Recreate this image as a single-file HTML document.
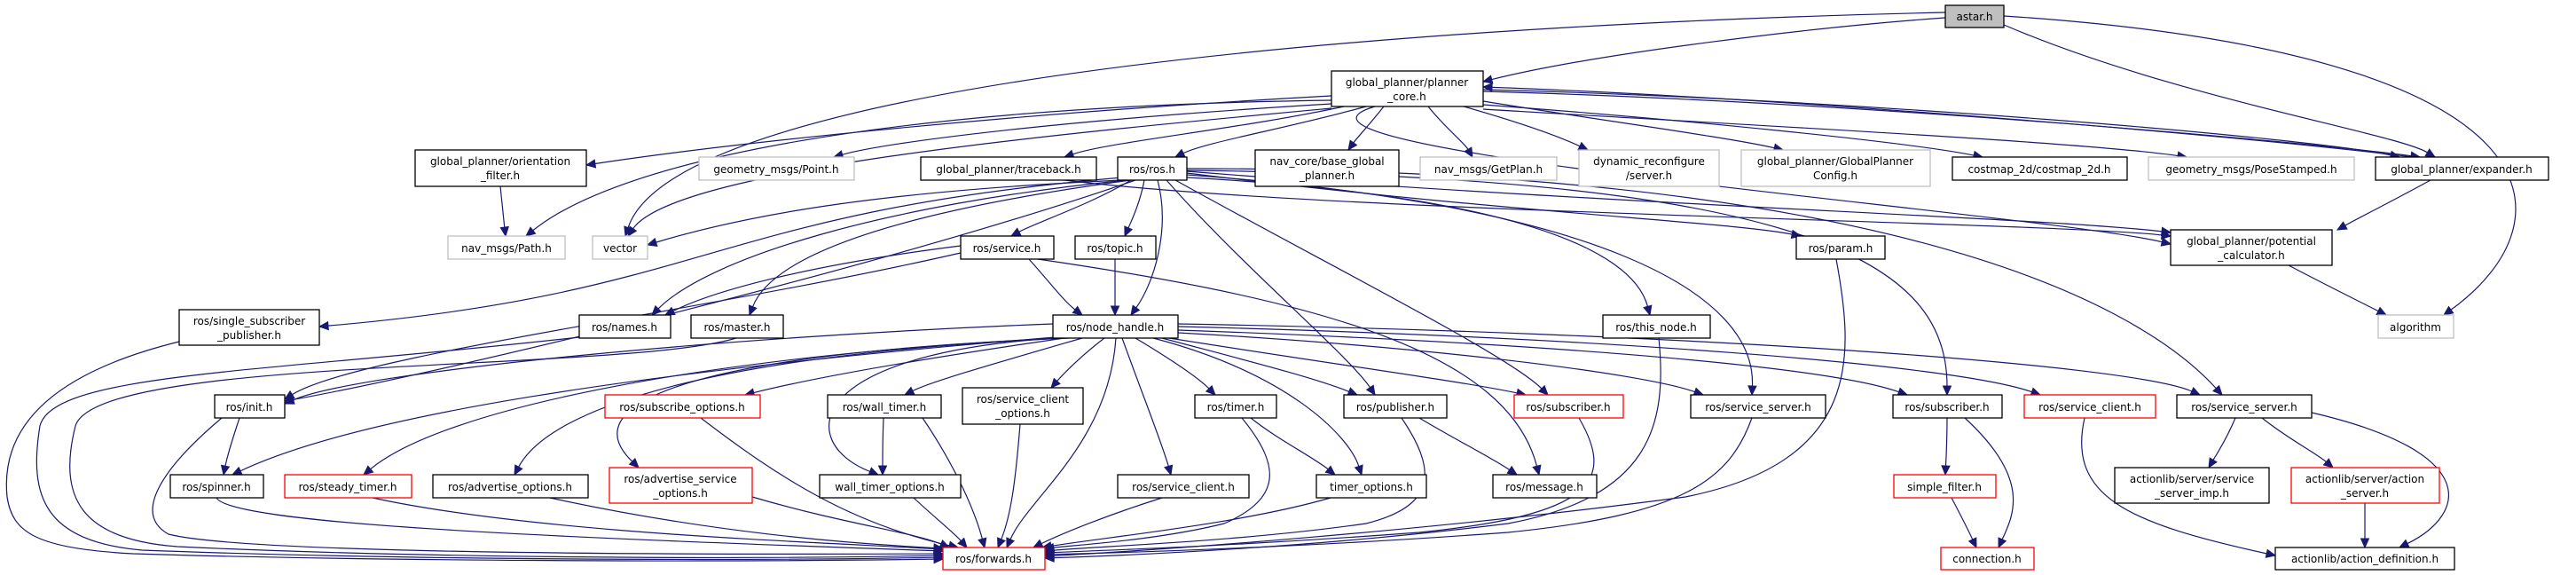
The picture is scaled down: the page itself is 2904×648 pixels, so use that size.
<!DOCTYPE html>
<html><head><meta charset="utf-8"><style>
html,body{margin:0;padding:0;background:#fff;}
svg{display:block;}
text{font-family:"DejaVu Sans","Liberation Sans",sans-serif;font-size:12px;fill:#000;}
</style></head><body>
<svg id="g" width="2904" height="648" viewBox="0 0 2904 648" xmlns="http://www.w3.org/2000/svg">
<g id="edges" fill="none" stroke="#191970" stroke-width="1.2"></g>
<g id="arrows" fill="#191970" stroke="#191970" stroke-width="1"></g>
<g id="nodes" stroke-width="1.3">
<rect x="2193" y="6" width="66" height="25" fill="#bfbfbf" stroke="#000"/><text x="2226" y="23" text-anchor="middle">astar.h</text>
<rect x="1501" y="80" width="171" height="40" fill="#fff" stroke="#000"/><text x="1586" y="97" text-anchor="middle">global_planner/planner</text><text x="1586" y="113" text-anchor="middle">_core.h</text>
<rect x="468" y="169" width="193" height="41" fill="#fff" stroke="#000"/><text x="564" y="186" text-anchor="middle">global_planner/orientation</text><text x="564" y="202" text-anchor="middle">_filter.h</text>
<rect x="788" y="177" width="175" height="26" fill="#fff" stroke="#bfbfbf"/><text x="875" y="195" text-anchor="middle">geometry_msgs/Point.h</text>
<rect x="1038" y="177" width="198" height="26" fill="#fff" stroke="#000"/><text x="1137" y="195" text-anchor="middle">global_planner/traceback.h</text>
<rect x="1260" y="177" width="78" height="26" fill="#fff" stroke="#000"/><text x="1299" y="195" text-anchor="middle">ros/ros.h</text>
<rect x="1415" y="169" width="162" height="41" fill="#fff" stroke="#000"/><text x="1496" y="186" text-anchor="middle">nav_core/base_global</text><text x="1496" y="202" text-anchor="middle">_planner.h</text>
<rect x="1601" y="177" width="154" height="26" fill="#fff" stroke="#bfbfbf"/><text x="1678" y="195" text-anchor="middle">nav_msgs/GetPlan.h</text>
<rect x="1780" y="169" width="158" height="41" fill="#fff" stroke="#bfbfbf"/><text x="1859" y="186" text-anchor="middle">dynamic_reconfigure</text><text x="1859" y="202" text-anchor="middle">/server.h</text>
<rect x="1963" y="169" width="213" height="41" fill="#fff" stroke="#bfbfbf"/><text x="2069" y="186" text-anchor="middle">global_planner/GlobalPlanner</text><text x="2069" y="202" text-anchor="middle">Config.h</text>
<rect x="2201" y="177" width="197" height="26" fill="#fff" stroke="#000"/><text x="2299" y="195" text-anchor="middle">costmap_2d/costmap_2d.h</text>
<rect x="2422" y="177" width="232" height="26" fill="#fff" stroke="#bfbfbf"/><text x="2538" y="195" text-anchor="middle">geometry_msgs/PoseStamped.h</text>
<rect x="2678" y="177" width="195" height="26" fill="#fff" stroke="#000"/><text x="2775" y="195" text-anchor="middle">global_planner/expander.h</text>
<rect x="505" y="266" width="132" height="26" fill="#fff" stroke="#bfbfbf"/><text x="571" y="284" text-anchor="middle">nav_msgs/Path.h</text>
<rect x="668" y="266" width="62" height="26" fill="#fff" stroke="#bfbfbf"/><text x="699" y="284" text-anchor="middle">vector</text>
<rect x="1083" y="266" width="105" height="26" fill="#fff" stroke="#000"/><text x="1135" y="284" text-anchor="middle">ros/service.h</text>
<rect x="1212" y="266" width="91" height="26" fill="#fff" stroke="#000"/><text x="1257" y="284" text-anchor="middle">ros/topic.h</text>
<rect x="2025" y="266" width="100" height="26" fill="#fff" stroke="#000"/><text x="2075" y="284" text-anchor="middle">ros/param.h</text>
<rect x="2447" y="259" width="182" height="40" fill="#fff" stroke="#000"/><text x="2538" y="276" text-anchor="middle">global_planner/potential</text><text x="2538" y="292" text-anchor="middle">_calculator.h</text>
<rect x="202" y="349" width="158" height="40" fill="#fff" stroke="#000"/><text x="281" y="366" text-anchor="middle">ros/single_subscriber</text><text x="281" y="382" text-anchor="middle">_publisher.h</text>
<rect x="653" y="355" width="103" height="26" fill="#fff" stroke="#000"/><text x="704" y="373" text-anchor="middle">ros/names.h</text>
<rect x="779" y="355" width="104" height="26" fill="#fff" stroke="#000"/><text x="831" y="373" text-anchor="middle">ros/master.h</text>
<rect x="1187" y="355" width="141" height="26" fill="#fff" stroke="#000"/><text x="1257" y="373" text-anchor="middle">ros/node_handle.h</text>
<rect x="1807" y="355" width="121" height="26" fill="#fff" stroke="#000"/><text x="1867" y="373" text-anchor="middle">ros/this_node.h</text>
<rect x="2681" y="355" width="85" height="26" fill="#fff" stroke="#bfbfbf"/><text x="2723" y="373" text-anchor="middle">algorithm</text>
<rect x="242" y="445" width="79" height="26" fill="#fff" stroke="#000"/><text x="281" y="463" text-anchor="middle">ros/init.h</text>
<rect x="682" y="445" width="175" height="26" fill="#fff" stroke="#f00"/><text x="769" y="463" text-anchor="middle">ros/subscribe_options.h</text>
<rect x="933" y="445" width="128" height="26" fill="#fff" stroke="#000"/><text x="997" y="463" text-anchor="middle">ros/wall_timer.h</text>
<rect x="1085" y="437" width="136" height="41" fill="#fff" stroke="#000"/><text x="1153" y="454" text-anchor="middle">ros/service_client</text><text x="1153" y="470" text-anchor="middle">_options.h</text>
<rect x="1347" y="445" width="92" height="26" fill="#fff" stroke="#000"/><text x="1393" y="463" text-anchor="middle">ros/timer.h</text>
<rect x="1515" y="445" width="116" height="26" fill="#fff" stroke="#000"/><text x="1573" y="463" text-anchor="middle">ros/publisher.h</text>
<rect x="1707" y="445" width="123" height="26" fill="#fff" stroke="#f00"/><text x="1768" y="463" text-anchor="middle">ros/subscriber.h</text>
<rect x="1906" y="445" width="152" height="26" fill="#fff" stroke="#000"/><text x="1982" y="463" text-anchor="middle">ros/service_server.h</text>
<rect x="2134" y="445" width="123" height="26" fill="#fff" stroke="#000"/><text x="2195" y="463" text-anchor="middle">ros/subscriber.h</text>
<rect x="2282" y="445" width="148" height="26" fill="#fff" stroke="#f00"/><text x="2356" y="463" text-anchor="middle">ros/service_client.h</text>
<rect x="2454" y="445" width="152" height="26" fill="#fff" stroke="#000"/><text x="2530" y="463" text-anchor="middle">ros/service_server.h</text>
<rect x="192" y="535" width="105" height="26" fill="#fff" stroke="#000"/><text x="244" y="553" text-anchor="middle">ros/spinner.h</text>
<rect x="321" y="535" width="143" height="26" fill="#fff" stroke="#f00"/><text x="392" y="553" text-anchor="middle">ros/steady_timer.h</text>
<rect x="488" y="535" width="175" height="26" fill="#fff" stroke="#000"/><text x="575" y="553" text-anchor="middle">ros/advertise_options.h</text>
<rect x="687" y="527" width="161" height="40" fill="#fff" stroke="#f00"/><text x="767" y="544" text-anchor="middle">ros/advertise_service</text><text x="767" y="560" text-anchor="middle">_options.h</text>
<rect x="924" y="535" width="159" height="26" fill="#fff" stroke="#000"/><text x="1003" y="553" text-anchor="middle">wall_timer_options.h</text>
<rect x="1260" y="535" width="148" height="26" fill="#fff" stroke="#000"/><text x="1334" y="553" text-anchor="middle">ros/service_client.h</text>
<rect x="1484" y="535" width="124" height="26" fill="#fff" stroke="#000"/><text x="1546" y="553" text-anchor="middle">timer_options.h</text>
<rect x="1683" y="535" width="117" height="26" fill="#fff" stroke="#000"/><text x="1741" y="553" text-anchor="middle">ros/message.h</text>
<rect x="2135" y="535" width="115" height="26" fill="#fff" stroke="#f00"/><text x="2192" y="553" text-anchor="middle">simple_filter.h</text>
<rect x="2384" y="527" width="174" height="40" fill="#fff" stroke="#000"/><text x="2471" y="544" text-anchor="middle">actionlib/server/service</text><text x="2471" y="560" text-anchor="middle">_server_imp.h</text>
<rect x="2583" y="527" width="167" height="40" fill="#fff" stroke="#f00"/><text x="2666" y="544" text-anchor="middle">actionlib/server/action</text><text x="2666" y="560" text-anchor="middle">_server.h</text>
<rect x="1063" y="617" width="115" height="25" fill="#fff" stroke="#f00"/><text x="1120" y="634" text-anchor="middle">ros/forwards.h</text>
<rect x="2188" y="617" width="105" height="25" fill="#fff" stroke="#f00"/><text x="2240" y="634" text-anchor="middle">connection.h</text>
<rect x="2565" y="617" width="202" height="25" fill="#fff" stroke="#000"/><text x="2666" y="634" text-anchor="middle">actionlib/action_definition.h</text>
</g>
</svg>
<script>
(function(){
var E=[
[2193,20,2050,30,1800,60,1672,92],
[2193,14,1500,30,760,100,705,266],
[2259,28,2450,110,2700,150,2745,177],
[2259,18,2900,60,2900,250,2755,355],
[1501,108,1100,130,800,165,661,186],
[1501,113,1000,120,700,180,593,266],
[1501,117,1200,135,1000,160,940,177],
[1501,122,1200,150,760,190,708,266],
[1515,120,1400,145,1250,160,1200,177],
[1540,120,1450,145,1360,160,1325,177],
[1560,120,1540,145,1530,155,1520,169],
[1610,120,1630,145,1650,160,1660,177],
[1650,120,1720,140,1760,155,1790,169],
[1672,114,1800,135,1950,155,2010,169],
[1672,118,1900,135,2150,160,2235,177],
[1672,123,1950,140,2350,160,2465,177],
[1672,103,2100,115,2600,160,2728,177],
[2720,177,2500,150,2000,110,1672,98],
[1672,101,2100,112,2600,155,2705,177],
[1550,120,1380,170,2300,240,2447,275],
[564,210,566,230,568,250,570,266],
[1200,203,1500,240,2300,250,2447,266],
[1265,203,1000,215,850,240,730,276],
[1265,200,800,240,800,330,360,368],
[1270,203,1000,230,800,290,735,355],
[1275,203,1000,240,870,290,845,355],
[1280,203,1000,300,500,420,321,452],
[1275,203,1230,230,1170,250,1140,266],
[1290,203,1285,230,1275,250,1268,266],
[1305,203,1320,260,1300,320,1275,355],
[1315,203,1400,300,1520,400,1550,445],
[1325,203,1500,300,1700,400,1745,445],
[1338,200,1700,220,1840,280,1860,355],
[1338,197,1800,230,1980,330,1975,445],
[1338,195,1700,240,1950,250,2030,266],
[1338,193,1800,230,2300,245,2447,262],
[1338,192,2050,200,2195,300,2195,445],
[1338,190,2100,190,2400,330,2505,445],
[1083,277,900,300,800,330,750,355],
[1083,285,800,350,400,400,321,450],
[1160,292,1185,320,1200,340,1220,355],
[1257,292,1257,320,1257,340,1257,355],
[1170,292,1500,340,1700,400,1735,535],
[1187,365,800,380,400,420,321,455],
[1190,380,700,420,400,470,262,535],
[1195,381,800,400,500,460,410,535],
[1200,381,800,400,620,460,580,535],
[1205,381,750,400,650,460,720,527],
[1200,381,1000,410,900,430,840,445],
[1220,381,1120,410,1050,430,1020,445],
[1190,381,900,400,900,500,990,535],
[1245,381,1220,400,1200,420,1185,437],
[1258,381,1250,500,1160,560,1135,617],
[1265,381,1290,450,1310,500,1320,535],
[1280,381,1320,405,1350,425,1370,445],
[1300,381,1450,420,1520,490,1535,535],
[1310,381,1400,405,1480,425,1530,445],
[1318,381,1500,410,1650,430,1720,445],
[1328,375,1600,390,1850,420,1920,445],
[1328,372,1700,385,2050,410,2150,445],
[1328,368,1800,380,2200,410,2300,445],
[1328,365,1900,375,2400,410,2480,445],
[202,385,60,420,0,480,8,560,14,600,40,618,150,624,400,632,800,634,1063,630],
[653,380,300,420,60,420,45,480,32,560,50,610,160,620,420,630,800,633,1063,628],
[830,381,700,420,110,400,85,480,65,560,90,608,200,616,450,628,800,631,1063,626],
[250,471,180,530,150,580,190,602,260,620,600,626,1063,624],
[270,471,262,495,256,515,252,535],
[244,561,260,590,600,605,1063,621],
[420,561,600,600,900,610,1063,619],
[620,561,800,600,950,612,1063,618],
[848,560,950,590,1030,600,1070,617],
[790,471,880,540,960,590,1080,617],
[996,471,995,495,995,515,995,535],
[1040,471,1080,530,1100,580,1110,617],
[1030,561,1050,580,1075,600,1090,617],
[1150,478,1145,540,1140,580,1125,617],
[1310,561,1250,580,1200,600,1165,617],
[1400,471,1440,520,1450,560,1380,590,1300,610,1200,615,1178,619],
[1410,471,1440,495,1480,515,1505,535],
[1500,561,1400,590,1250,605,1175,617],
[1580,471,1620,530,1620,570,1540,590,1400,610,1250,615,1178,621],
[1600,471,1640,495,1680,515,1710,535],
[1780,471,1820,540,1800,580,1600,600,1400,615,1250,620,1178,623],
[1975,471,1950,540,1900,580,1700,600,1500,615,1300,622,1178,625],
[2070,292,2090,400,2100,520,1900,560,1600,600,1300,620,1178,627],
[1870,381,1880,480,1860,560,1700,590,1500,615,1300,625,1178,629],
[2195,471,2195,495,2194,515,2193,535],
[2215,471,2290,540,2270,580,2253,617],
[2200,561,2210,580,2220,600,2228,617],
[2350,471,2330,560,2400,590,2565,626],
[2520,471,2510,495,2500,510,2490,527],
[2550,471,2580,495,2610,510,2630,527],
[2606,465,2800,510,2780,580,2705,617],
[2666,567,2666,585,2666,600,2666,617],
[2740,203,2700,225,2660,245,2635,259],
[2580,299,2620,320,2660,340,2690,355]
];
var ns="http://www.w3.org/2000/svg",ge=document.getElementById("edges"),ga=document.getElementById("arrows");
E.forEach(function(p){
  var n=p.length, ex=p[n-2], ey=p[n-1], cx=p[n-4], cy=p[n-3];
  var dx=ex-cx, dy=ey-cy, L=Math.sqrt(dx*dx+dy*dy)||1; dx/=L; dy/=L;
  var bx=ex-dx*10, by=ey-dy*10;
  var d="M"+p[0]+","+p[1];
  for(var i=2;i<n;i+=6){
    var x3=p[i+4],y3=p[i+5];
    if(i+6>=n){x3=bx;y3=by;}
    d+=" C"+p[i]+","+p[i+1]+" "+p[i+2]+","+p[i+3]+" "+x3+","+y3;
  }
  var pa=document.createElementNS(ns,"path");pa.setAttribute("d",d);ge.appendChild(pa);
  var px=-dy*4.5, py=dx*4.5;
  var pg=document.createElementNS(ns,"polygon");
  pg.setAttribute("points",ex+","+ey+" "+(bx+px)+","+(by+py)+" "+(bx-px)+","+(by-py));
  ga.appendChild(pg);
});
})();
</script>
</body></html>
